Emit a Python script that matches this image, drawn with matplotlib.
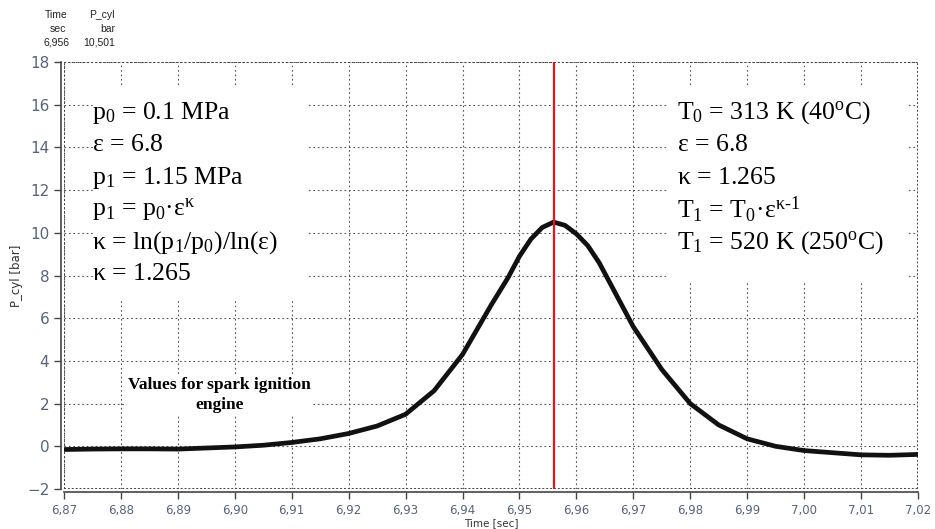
import matplotlib
matplotlib.use('Agg')
import matplotlib.pyplot as plt
from matplotlib.patches import Rectangle

# cylinder pressure trace
time_s = [6.870, 6.875, 6.880, 6.885, 6.890, 6.895, 6.900, 6.905, 6.910, 6.915,
          6.920, 6.925, 6.930, 6.935, 6.940, 6.945, 6.948, 6.950, 6.952, 6.954,
          6.956, 6.958, 6.960, 6.962, 6.964, 6.966, 6.968, 6.970, 6.975, 6.980,
          6.985, 6.990, 6.995, 7.000, 7.005, 7.010, 7.015, 7.020]
p_cyl = [-0.15, -0.13, -0.12, -0.12, -0.13, -0.08, -0.03, 0.05, 0.18, 0.35,
         0.6, 0.95, 1.5, 2.6, 4.3, 6.6, 7.9, 8.9, 9.7, 10.25,
         10.5, 10.35, 9.95, 9.4, 8.6, 7.6, 6.6, 5.6, 3.6, 2.0,
         1.0, 0.35, 0.0, -0.2, -0.3, -0.4, -0.42, -0.38]

cursor_t = 6.956
cursor_p = "10,501"

x_ticks = [6.87, 6.88, 6.89, 6.90, 6.91, 6.92, 6.93, 6.94, 6.95, 6.96,
           6.97, 6.98, 6.99, 7.00, 7.01, 7.02]
y_ticks = [-2, 0, 2, 4, 6, 8, 10, 12, 14, 16, 18]

left_lines = ['p$_0$ = 0.1 MPa', '$ε$ = 6.8', 'p$_1$ = 1.15 MPa',
              'p$_1$ = p$_0$·ε$^{κ}$', '$κ$ = ln(p$_1$/p$_0$)/ln(ε)', '$κ$ = 1.265']
right_lines = ['T$_0$ = 313 K (40$^{o}$C)', '$ε$ = 6.8', '$κ$ = 1.265',
               'T$_1$ = T$_0$·ε$^{κ\\text{-}1}$', 'T$_1$ = 520 K (250$^{o}$C)']

plt.rcParams['mathtext.fontset'] = 'custom'
plt.rcParams['mathtext.rm'] = 'Liberation Serif'
plt.rcParams['mathtext.it'] = 'Liberation Serif'
plt.rcParams['mathtext.bf'] = 'Liberation Serif:bold'
plt.rcParams['mathtext.default'] = 'rm'

tick_col = '#56647e'
fig = plt.figure(figsize=(9.35, 5.29), dpi=100)
ax = fig.add_axes([0.0684, 0.0756, 0.9134, 0.8072])

ax.set_axisbelow(True)
ax.grid(True, color='#555555', linestyle=(0, (1.5, 2.5)), linewidth=0.8)
ax.plot(time_s, p_cyl, color='#111111', linewidth=3.4, zorder=3)
ax.axvline(cursor_t, color='#e8141b', linewidth=1.6, zorder=4)

ax.set_xlim(6.87, 7.02)
ax.set_ylim(-2, 18)
ax.set_xticks(x_ticks)
ax.set_xticklabels([f'{v:.2f}'.replace('.', ',') for v in x_ticks])
ax.set_yticks(y_ticks)
ax.tick_params(axis='x', labelsize=8.5, colors='#444444', labelcolor=tick_col, length=5, width=1)
ax.tick_params(axis='y', labelsize=11, colors='#444444', labelcolor=tick_col, length=5, width=1)
for s in ['top', 'right']:
    ax.spines[s].set_visible(False)
for s in ['left', 'bottom']:
    ax.spines[s].set_position(('outward', 2))
    ax.spines[s].set_color('#444444')
    ax.spines[s].set_linewidth(1.2)
# dotted frame inside the plot area
for y in [-2, 18]:
    ax.axhline(y, color='#444444', linestyle=(0, (1, 1)), linewidth=1.4, zorder=2)
for x in [6.87, 7.02]:
    ax.axvline(x, color='#444444', linestyle=(0, (1, 1)), linewidth=1.4, zorder=2)

ax.set_xlabel('Time [sec]', fontsize=7.5, color='#333333', labelpad=1)
ax.set_ylabel('P_cyl [bar]', fontsize=8.5, color='#333333', labelpad=3)

# white boxes behind the annotations
ax.add_patch(Rectangle((0.034, 0.443), 0.252, 0.503, transform=ax.transAxes,
                       facecolor='white', edgecolor='none', zorder=1))
ax.add_patch(Rectangle((0.707, 0.485), 0.283, 0.461, transform=ax.transAxes,
                       facecolor='white', edgecolor='none', zorder=1))

for i, s in enumerate(left_lines):
    fig.text(92 / 935, 1 - (113 + 32.3 * i) / 529, s, fontsize=18.5,
             family='Liberation Serif', va='center', ha='left')
for i, s in enumerate(right_lines):
    fig.text(677 / 935, 1 - (113 + 32.3 * i) / 529, s, fontsize=18.5,
             family='Liberation Serif', va='center', ha='left')

ax.text(0.182, 0.22, 'Values for spark ignition\nengine', transform=ax.transAxes,
        fontsize=12.5, family='Liberation Serif', fontweight='bold', ha='center',
        va='center', linespacing=1.3, zorder=2,
        bbox=dict(facecolor='white', edgecolor='none', pad=1))

# cursor readout
hdr = dict(fontsize=7.5, family='Liberation Sans', color='#222222', ha='right')
fig.text(68 / 935, 1 - 18 / 529, 'Time', **hdr)
fig.text(66 / 935, 1 - 32 / 529, 'sec', **hdr)
fig.text(70 / 935, 1 - 46 / 529, f'{cursor_t:.3f}'.replace('.', ','), **hdr)
fig.text(115 / 935, 1 - 18 / 529, 'P_cyl', **hdr)
fig.text(115 / 935, 1 - 32 / 529, 'bar', **hdr)
fig.text(115 / 935, 1 - 46 / 529, cursor_p, **hdr)

fig.savefig('out.png', dpi=100)
